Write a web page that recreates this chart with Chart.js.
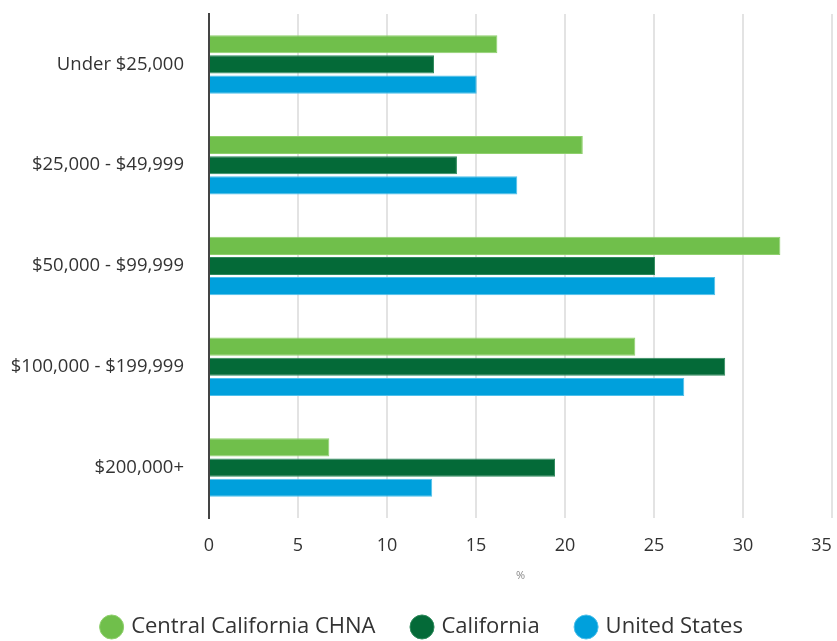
<!DOCTYPE html>
<html>
<head>
<meta charset="utf-8">
<script src="https://cdn.jsdelivr.net/npm/chart.js@4/dist/chart.umd.min.js"></script>
<style>
  html, body { margin: 0; padding: 0; background: #fff; }
  #wrap { width: 837px; height: 641px; position: relative; }
</style>
</head>
<body>
<div id="wrap"><canvas id="c" width="837" height="641"></canvas></div>
<script>
const categories = ["Under $25,000", "$25,000 - $49,999", "$50,000 - $99,999", "$100,000 - $199,999", "$200,000+"];
const seriesNames = ["Central California CHNA", "California", "United States"];
const centralCA = [16.2, 21.0, 32.1, 23.95, 6.76];
const california = [12.64, 13.93, 25.06, 29.0, 19.44];
const unitedStates = [15.04, 17.32, 28.44, 26.7, 12.54];
const xTicks = [0, 5, 10, 15, 20, 25, 30, 35];

const colors = ["#70BF4B", "#046A38", "#00A0DC"];
const borders = ["#8fd06d", "#2f8a5c", "#4fc0ea"];
const FONT = "'Open Sans', 'Noto Sans', sans-serif";

const legendShift = {
  id: 'legendShift',
  afterLayout(chart) {
    if (chart.legend) { chart.legend.left += 7; chart.legend.right += 7; }
  }
};

new Chart(document.getElementById('c'), {
  type: 'bar',
  data: {
    labels: categories,
    datasets: [centralCA, california, unitedStates].map((d, i) => ({
      label: seriesNames[i],
      data: d,
      backgroundColor: colors[i],
      borderColor: borders[i],
      borderWidth: 1,
      categoryPercentage: 0.6,
      barPercentage: 0.9
    }))
  },
  plugins: [legendShift],
  options: {
    indexAxis: 'y',
    responsive: false,
    animation: false,
    layout: { padding: { top: 14, left: 0, right: 5, bottom: -7 } },
    scales: {
      x: {
        min: 0, max: 35,
        afterBuildTicks: (axis) => { axis.ticks = xTicks.map(v => ({ value: v })); },
        afterFit: (s) => { s.paddingLeft = 0; s.paddingRight = 0; s.height = 60; },
        grid: { color: '#e3e3e3', lineWidth: 2, drawTicks: false },
        border: { display: false },
        ticks: {
          padding: 17, color: '#333', font: { family: FONT, size: 18 },
          callback: (v) => v === 35 ? '35\u2002\u2002\u2009' : String(v)
        },
        title: { display: true, text: '%', color: '#888', font: { family: FONT, size: 11 }, padding: { top: 0, bottom: -4 } }
      },
      y: {
        afterFit: (s) => { s.paddingTop = 0; s.paddingBottom = 0; s.width = 209; },
        grid: { display: false, drawTicks: false },
        border: { display: true, color: '#444', width: 2 },
        ticks: { padding: 25, color: '#333', font: { family: FONT, size: 18.5 } }
      }
    },
    plugins: {
      legend: {
        position: 'bottom',
        labels: {
          usePointStyle: true, pointStyle: 'circle', boxWidth: 17, boxHeight: 17,
          padding: 38, color: '#333', font: { family: FONT, size: 22 }
        }
      },
      tooltip: { enabled: false }
    }
  }
});
</script>
</body>
</html>
